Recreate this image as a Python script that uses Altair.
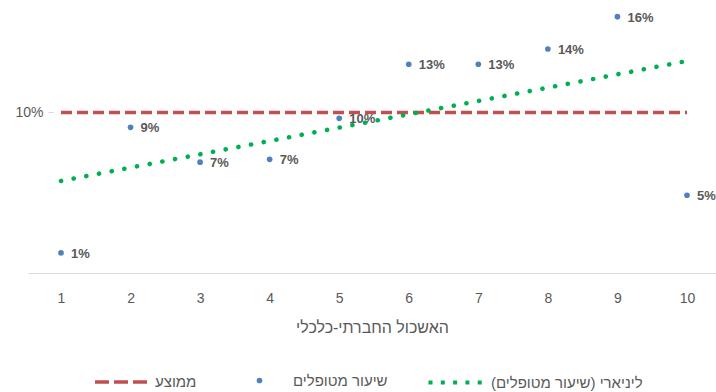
import altair as alt
import pandas as pd

# Socio-economic cluster (1 = lowest) and share of treated people per cluster
CLUSTERS = [1, 2, 3, 4, 5, 6, 7, 8, 9, 10]
TREATED_RATE = [0.0125, 0.0907, 0.069, 0.0708, 0.0963, 0.130, 0.130, 0.1395, 0.1596, 0.0484]
AVERAGE_RATE = 0.10

X_TITLE = "האשכול החברתי-כלכלי"
SERIES_RATE = "שיעור מטופלים"
SERIES_AVG = "ממוצע"
SERIES_TREND = "ליניארי (שיעור מטופלים)"

BLUE = "#4F81BD"
RED = "#C0504D"
GREEN = "#00B050"
GRAY = "#595959"
LIGHT = "#D9D9D9"
FONT = "Liberation Sans, DejaVu Sans, sans-serif"

rates = pd.DataFrame({"cluster": CLUSTERS, "rate": TREATED_RATE, "series": SERIES_RATE})
avg = pd.DataFrame({"cluster": CLUSTERS, "rate": [AVERAGE_RATE] * len(CLUSTERS), "series": SERIES_AVG})

x_enc = alt.X(
    "cluster:Q",
    scale=alt.Scale(domain=[0.526, 10.417], nice=False, zero=False),
    axis=alt.Axis(
        values=CLUSTERS, title=X_TITLE, grid=False, ticks=False, tickSize=0,
        domainColor=LIGHT, domainWidth=1.2, labelPadding=18, titlePadding=14,
        labelFont=FONT, labelFontSize=14, labelColor=GRAY,
        titleFont=FONT, titleFontSize=16, titleFontWeight="normal", titleColor=GRAY,
    ),
)
y_enc = alt.Y(
    "rate:Q",
    scale=alt.Scale(domain=[0, 0.17], nice=False),
    axis=alt.Axis(
        values=[AVERAGE_RATE], format=".0%", title=None, grid=False, domain=False,
        tickSize=5, tickColor=LIGHT, offset=-25, labelPadding=5,
        labelFont=FONT, labelFontSize=14, labelColor=GRAY,
    ),
)

legend_common = dict(title=None, orient="none", direction="horizontal",
                     labelFont=FONT, labelFontSize=15, labelColor=GRAY, labelLimit=300)

average_line = alt.Chart(avg).mark_line(strokeDash=[11, 5], strokeWidth=3.5).encode(
    x=x_enc, y=y_enc,
    color=alt.Color("series:N", scale=alt.Scale(domain=[SERIES_AVG], range=[RED]),
                    legend=alt.Legend(symbolType="stroke", symbolSize=2704, symbolStrokeWidth=3.5,
                                      symbolDash=[14, 5], legendX=65, legendY=354, labelOffset=6,
                                      **legend_common)),
)

points = alt.Chart(rates).mark_circle(size=32, opacity=1).encode(
    x=x_enc, y=y_enc,
    color=alt.Color("series:N", scale=alt.Scale(domain=[SERIES_RATE], range=[BLUE]),
                    legend=alt.Legend(symbolType="circle", symbolSize=32, legendX=224, legendY=373,
                                      labelOffset=26, **legend_common)),
)

labels = alt.Chart(rates).mark_text(
    align="left", baseline="middle", dx=10, dy=1, fontSize=13, fontWeight="bold", font=FONT, color=GRAY
).encode(x=x_enc, y=y_enc, text=alt.Text("rate:Q", format=".0%"))

trend = alt.Chart(rates).transform_regression(
    "cluster", "rate", extent=[1, 10]
).transform_calculate(series=f'"{SERIES_TREND}"').mark_line(
    strokeDash=[0.1, 12.8], strokeCap="round", strokeWidth=4.6
).encode(
    x=x_enc, y=y_enc,
    color=alt.Color("series:N", scale=alt.Scale(domain=[SERIES_TREND], range=[GREEN]),
                    legend=alt.Legend(symbolType="stroke", symbolSize=3136, symbolStrokeWidth=4.2,
                                      symbolDash=[4, 8.3], legendX=398, legendY=352, labelOffset=4,
                                      **legend_common)),
)

chart = alt.layer(average_line, points, labels, trend).resolve_scale(
    color="independent"
).properties(
    width=688, height=273,
    padding={"left": 28, "top": 0, "right": 0, "bottom": 119},
    autosize=alt.AutoSizeParams(type="none"),
    background="white",
).configure_view(stroke=None)

chart.save("out.html", embed_options={"renderer": "svg", "actions": False})
